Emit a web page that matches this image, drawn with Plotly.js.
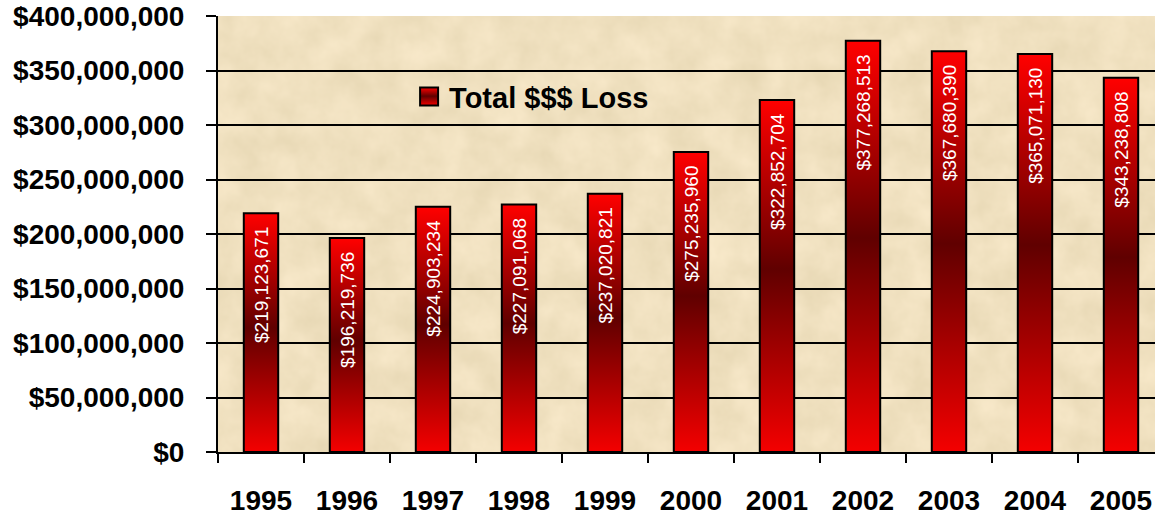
<!DOCTYPE html>
<html>
<head>
<meta charset="utf-8">
<script src="https://cdn.plot.ly/plotly-3.0.1.min.js"></script>
<style>
  html, body { margin: 0; padding: 0; background: #fff; overflow: hidden; }
  #plotDiv { width: 1170px; height: 515px; }
</style>
</head>
<body>
<div id="plotDiv"></div>
<script>
const years = ['1995', '1996', '1997', '1998', '1999', '2000', '2001', '2002', '2003', '2004', '2005'];
const totalLoss = [219123671, 196219736, 224903234, 227091068, 237020821, 275235960,
                   322852704, 377268513, 367680390, 365071130, 343238808];
const yTicks = [0, 50000000, 100000000, 150000000, 200000000, 250000000, 300000000, 350000000, 400000000];

const traceLoss = {
    type: 'bar',
    x: years,
    y: totalLoss,
    name: 'Total $$$ Loss',
    marker: {color: '#e00000', line: {color: '#000', width: 2}},
    texttemplate: '%{y:$,.0f}\u00a0\u00a0',
    textposition: 'inside',
    insidetextanchor: 'end',
    textangle: -90,
    constraintext: 'none',
    insidetextfont: {family: 'Liberation Sans, Arial, sans-serif', size: 19, color: '#fff'},
    hoverinfo: 'x+y'
};

const layout = {
    width: 1170,
    height: 515,
    margin: {l: 218, r: 6, t: 16, b: 63},
    paper_bgcolor: '#ffffff',
    plot_bgcolor: '#efdfbd',
    bargap: 0.6,
    showlegend: true,
    legend: {
        x: 0.202, y: 0.815, xanchor: 'left', yanchor: 'middle',
        bgcolor: 'rgba(0,0,0,0)',
        font: {family: 'Liberation Sans, Arial, sans-serif', size: 29, color: '#000', weight: 'bold'}
    },
    xaxis: {
        type: 'category',
        showline: true, linecolor: '#000', linewidth: 2,
        ticks: 'outside', tickson: 'boundaries', ticklen: 9, tickwidth: 2, tickcolor: '#000',
        ticklabelstandoff: 22,
        tickfont: {family: 'Liberation Sans, Arial, sans-serif', size: 28, color: '#000', weight: 'bold'},
        showgrid: false
    },
    yaxis: {
        range: [0, 400000000],
        tickvals: yTicks,
        tickformat: '$,.0f',
        showline: true, linecolor: '#000', linewidth: 2,
        ticks: 'outside', ticklen: 10, tickwidth: 2, tickcolor: '#000',
        ticklabelstandoff: 16,
        tickfont: {family: 'Liberation Sans, Arial, sans-serif', size: 28, color: '#000', weight: 'bold'},
        showgrid: true, gridcolor: '#000', gridwidth: 2,
        zeroline: false
    }
};

Plotly.newPlot('plotDiv', [traceLoss], layout, {displayModeBar: false, staticPlot: true}).then(gd => {
    const svg = gd.querySelector('.main-svg');
    const ns = 'http://www.w3.org/2000/svg';
    let defs = svg.querySelector('defs');
    if (!defs) { defs = document.createElementNS(ns, 'defs'); svg.insertBefore(defs, svg.firstChild); }

    // red - maroon - red gradient for the bars
    const grad = document.createElementNS(ns, 'linearGradient');
    grad.setAttribute('id', 'barGrad');
    grad.setAttribute('x1', '0'); grad.setAttribute('y1', '0');
    grad.setAttribute('x2', '0'); grad.setAttribute('y2', '1');
    [['0', '#ff0000'], ['0.48', '#600000'], ['1', '#f40000']].forEach(([o, c]) => {
        const s = document.createElementNS(ns, 'stop');
        s.setAttribute('offset', o); s.setAttribute('stop-color', c);
        grad.appendChild(s);
    });
    defs.appendChild(grad);

    // parchment look for the plot background
    const filt = document.createElementNS(ns, 'filter');
    filt.setAttribute('id', 'parchment');
    filt.setAttribute('color-interpolation-filters', 'sRGB');
    filt.innerHTML =
        '<feTurbulence type="fractalNoise" baseFrequency="0.03" numOctaves="4" seed="3" result="noise"/>' +
        '<feColorMatrix in="noise" type="matrix" values="' +
        '0.08 0 0 0 0.90  0.08 0 0 0 0.84  0.10 0 0 0 0.70  0 0 0 0 1" result="tint"/>' +
        '<feComposite in="tint" in2="SourceGraphic" operator="in"/>';
    defs.appendChild(filt);
    gd.querySelectorAll('.bglayer rect.bg').forEach(r => r.setAttribute('filter', 'url(#parchment)'));

    gd.querySelectorAll('.trace.bars .point path').forEach(p => { p.style.fill = 'url(#barGrad)'; });
    gd.querySelectorAll('.legend .legendpoints path').forEach(p => {
        p.setAttribute('d', 'M9,9H-9V-9H9Z');
        p.style.fill = 'url(#barGrad)';
    });
}).catch(error => {
    console.error('Error in plot:', error);
});
</script>
</body>
</html>
